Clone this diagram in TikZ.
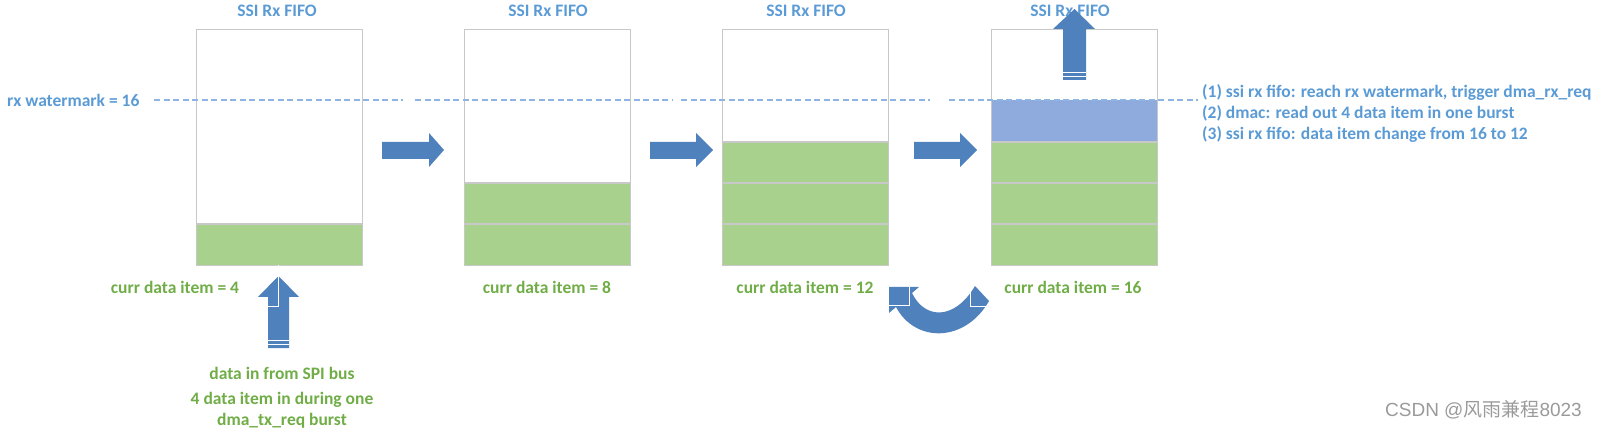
\documentclass[tikz,border=0pt]{standalone}
\usepackage{fontspec}
\setmainfont{Carlito}
\newfontfamily\wmfont{Liberation Sans}
\newfontfamily\cjkfont{Noto Sans CJK SC}
\definecolor{tblue}{HTML}{5B9BD5}
\definecolor{tgreen}{HTML}{70AD47}
\definecolor{ablue}{HTML}{4F81BD}
\definecolor{fgreen}{HTML}{A9D18E}
\definecolor{fblue}{HTML}{8FAADC}
\definecolor{boxgray}{HTML}{C8C8C8}
\definecolor{dashblue}{HTML}{8DB4E2}
\definecolor{wmgray}{HTML}{9A9A9A}
\begin{document}
\begin{tikzpicture}[x=1pt,y=-1pt,
  fifo/.style={draw=boxgray, line width=0.9pt, inner sep=0pt, minimum width=166pt, minimum height=236pt},
  title/.style={text=tblue, font=\fontsize{17.5}{20}\selectfont\bfseries, inner sep=0pt},
  glabel/.style={text=tgreen, font=\fontsize{17.5}{20}\selectfont\bfseries, inner sep=0pt},
  blabel/.style={text=tblue, font=\fontsize{17.5}{20}\selectfont\bfseries, inner sep=0pt},
  divider/.style={draw=boxgray, line width=1.2pt},
  wline/.style={draw=white, line width=0.6pt},
  wmark/.style={dashblue, line width=1.2pt, dash pattern=on 6pt off 3.5pt},
  blockarrow/.style={fill=ablue}
]
\useasboundingbox (0,0) rectangle (1598,430);

% cell fills
\fill[fgreen] (196,224) rectangle (362,265);
\fill[fgreen] (464,183) rectangle (630,265);
\fill[fgreen] (723,142) rectangle (888,265);
\fill[fblue] (991,100) rectangle (1157,142);
\fill[fgreen] (991,142) rectangle (1157,265);

% FIFO boxes
\node[fifo] (f1) at (279,147) {};
\node[fifo] (f2) at (547,147) {};
\node[fifo] (f3) at (805.5,147) {};
\node[fifo] (f4) at (1074,147) {};

% dividers
\draw[divider] (f1.west |- 0,224) -- (f1.east |- 0,224);
\draw[divider] (f2.west |- 0,183) -- (f2.east |- 0,183);
\draw[divider] (f2.west |- 0,224) -- (f2.east |- 0,224);
\draw[divider] (f3.west |- 0,142) -- (f3.east |- 0,142);
\draw[divider] (f3.west |- 0,183) -- (f3.east |- 0,183);
\draw[divider] (f3.west |- 0,224) -- (f3.east |- 0,224);
\draw[divider] (f4.west |- 0,142) -- (f4.east |- 0,142);
\draw[divider] (f4.west |- 0,183) -- (f4.east |- 0,183);
\draw[divider] (f4.west |- 0,224) -- (f4.east |- 0,224);

% titles
\node[title] (t1) at (277,11) {SSI Rx FIFO};
\node[title] (t2) at (548,11) {SSI Rx FIFO};
\node[title] (t3) at (806,11) {SSI Rx FIFO};
\node[title] (t4) at (1070,11) {SSI Rx FIFO};

% watermark line
\node[blabel, anchor=west] (wm) at (7,100) {rx watermark = 16};
\coordinate (d1a) at (154,100); \coordinate (d1b) at (403,100);
\coordinate (d2a) at (415,100); \coordinate (d2b) at (672,100);
\coordinate (d3a) at (681,100); \coordinate (d3b) at (930,100);
\coordinate (d4a) at (949,100); \coordinate (d4b) at (1198,100);
\draw[wmark] (d1a) -- (d1b);
\draw[wmark] (d2a) -- (d2b);
\draw[wmark] (d3a) -- (d3b);
\draw[wmark] (d4a) -- (d4b);

% curr data labels
\node[glabel] (c1) at (175,287) {curr data item = 4};
\node[glabel] (c2) at (547,287) {curr data item = 8};
\node[glabel] (c3) at (805,287) {curr data item = 12};
\node[glabel] (c4) at (1073,287) {curr data item = 16};

% right arrows
\fill[blockarrow] (382,142) -- (429,142) -- (429,133) -- (444,150) -- (429,167) -- (429,159) -- (382,159) -- cycle;
\fill[blockarrow] (650,142) -- (696,142) -- (696,133) -- (713,150) -- (696,167) -- (696,159) -- (650,159) -- cycle;
\fill[blockarrow] (914,142) -- (960,142) -- (960,133) -- (977,150) -- (960,167) -- (960,159) -- (914,159) -- cycle;

% up arrow into FIFO 1
\fill[blockarrow] (268,348) -- (268,297) -- (258,297) -- (278.5,276) -- (299,297) -- (289,297) -- (289,348) -- cycle;
\draw[wline] (278.5,265) -- (278.5,306) -- (268,306);
\draw[wline] (268,340) -- (289,340);
\draw[wline] (268,344) -- (289,344);

% up arrow out of FIFO 4
\fill[blockarrow] (1063,80) -- (1063,29) -- (1053,29) -- (1074.5,9) -- (1095,29) -- (1086,29) -- (1086,80) -- cycle;
\draw[wline] (1063,72) -- (1086,72);
\draw[wline] (1063,76) -- (1086,76);

% U-turn arrow
\fill[blockarrow] (889,287) -- (919,287) -- (912,293) .. controls (925,320) and (955,320) .. (975,286) -- (989,301) .. controls (965,343) and (915,343) .. (896,307) -- (889,313) -- cycle;
\draw[wline] (909,287) -- (909,305) -- (889,305);
\draw[wline] (970,286) -- (970,306) -- (989,306);

% bottom texts
\node[glabel] (s1) at (282,373) {data in from SPI bus};
\node[glabel] (s2) at (282,400) {4 data item in during one};
\node[glabel] (s3) at (282,421) {dma\_tx\_req burst};

% right notes
\node[blabel, anchor=west] (n1) at (1202,92) {(1) ssi rx fifo: reach rx watermark, trigger dma\_rx\_req};
\node[blabel, anchor=west] (n2) at (1202,113) {(2) dmac: read out 4 data item in one burst};
\node[blabel, anchor=west] (n3) at (1202,134) {(3) ssi rx fifo: data item change from 16 to 12};

% CSDN watermark
\node[anchor=east, text=wmgray, inner sep=0pt, font=\fontsize{19}{21}\selectfont] (csdn) at (1582,410) {\wmfont CSDN @\cjkfont 风雨兼程\wmfont 8023};
\end{tikzpicture}
\end{document}
